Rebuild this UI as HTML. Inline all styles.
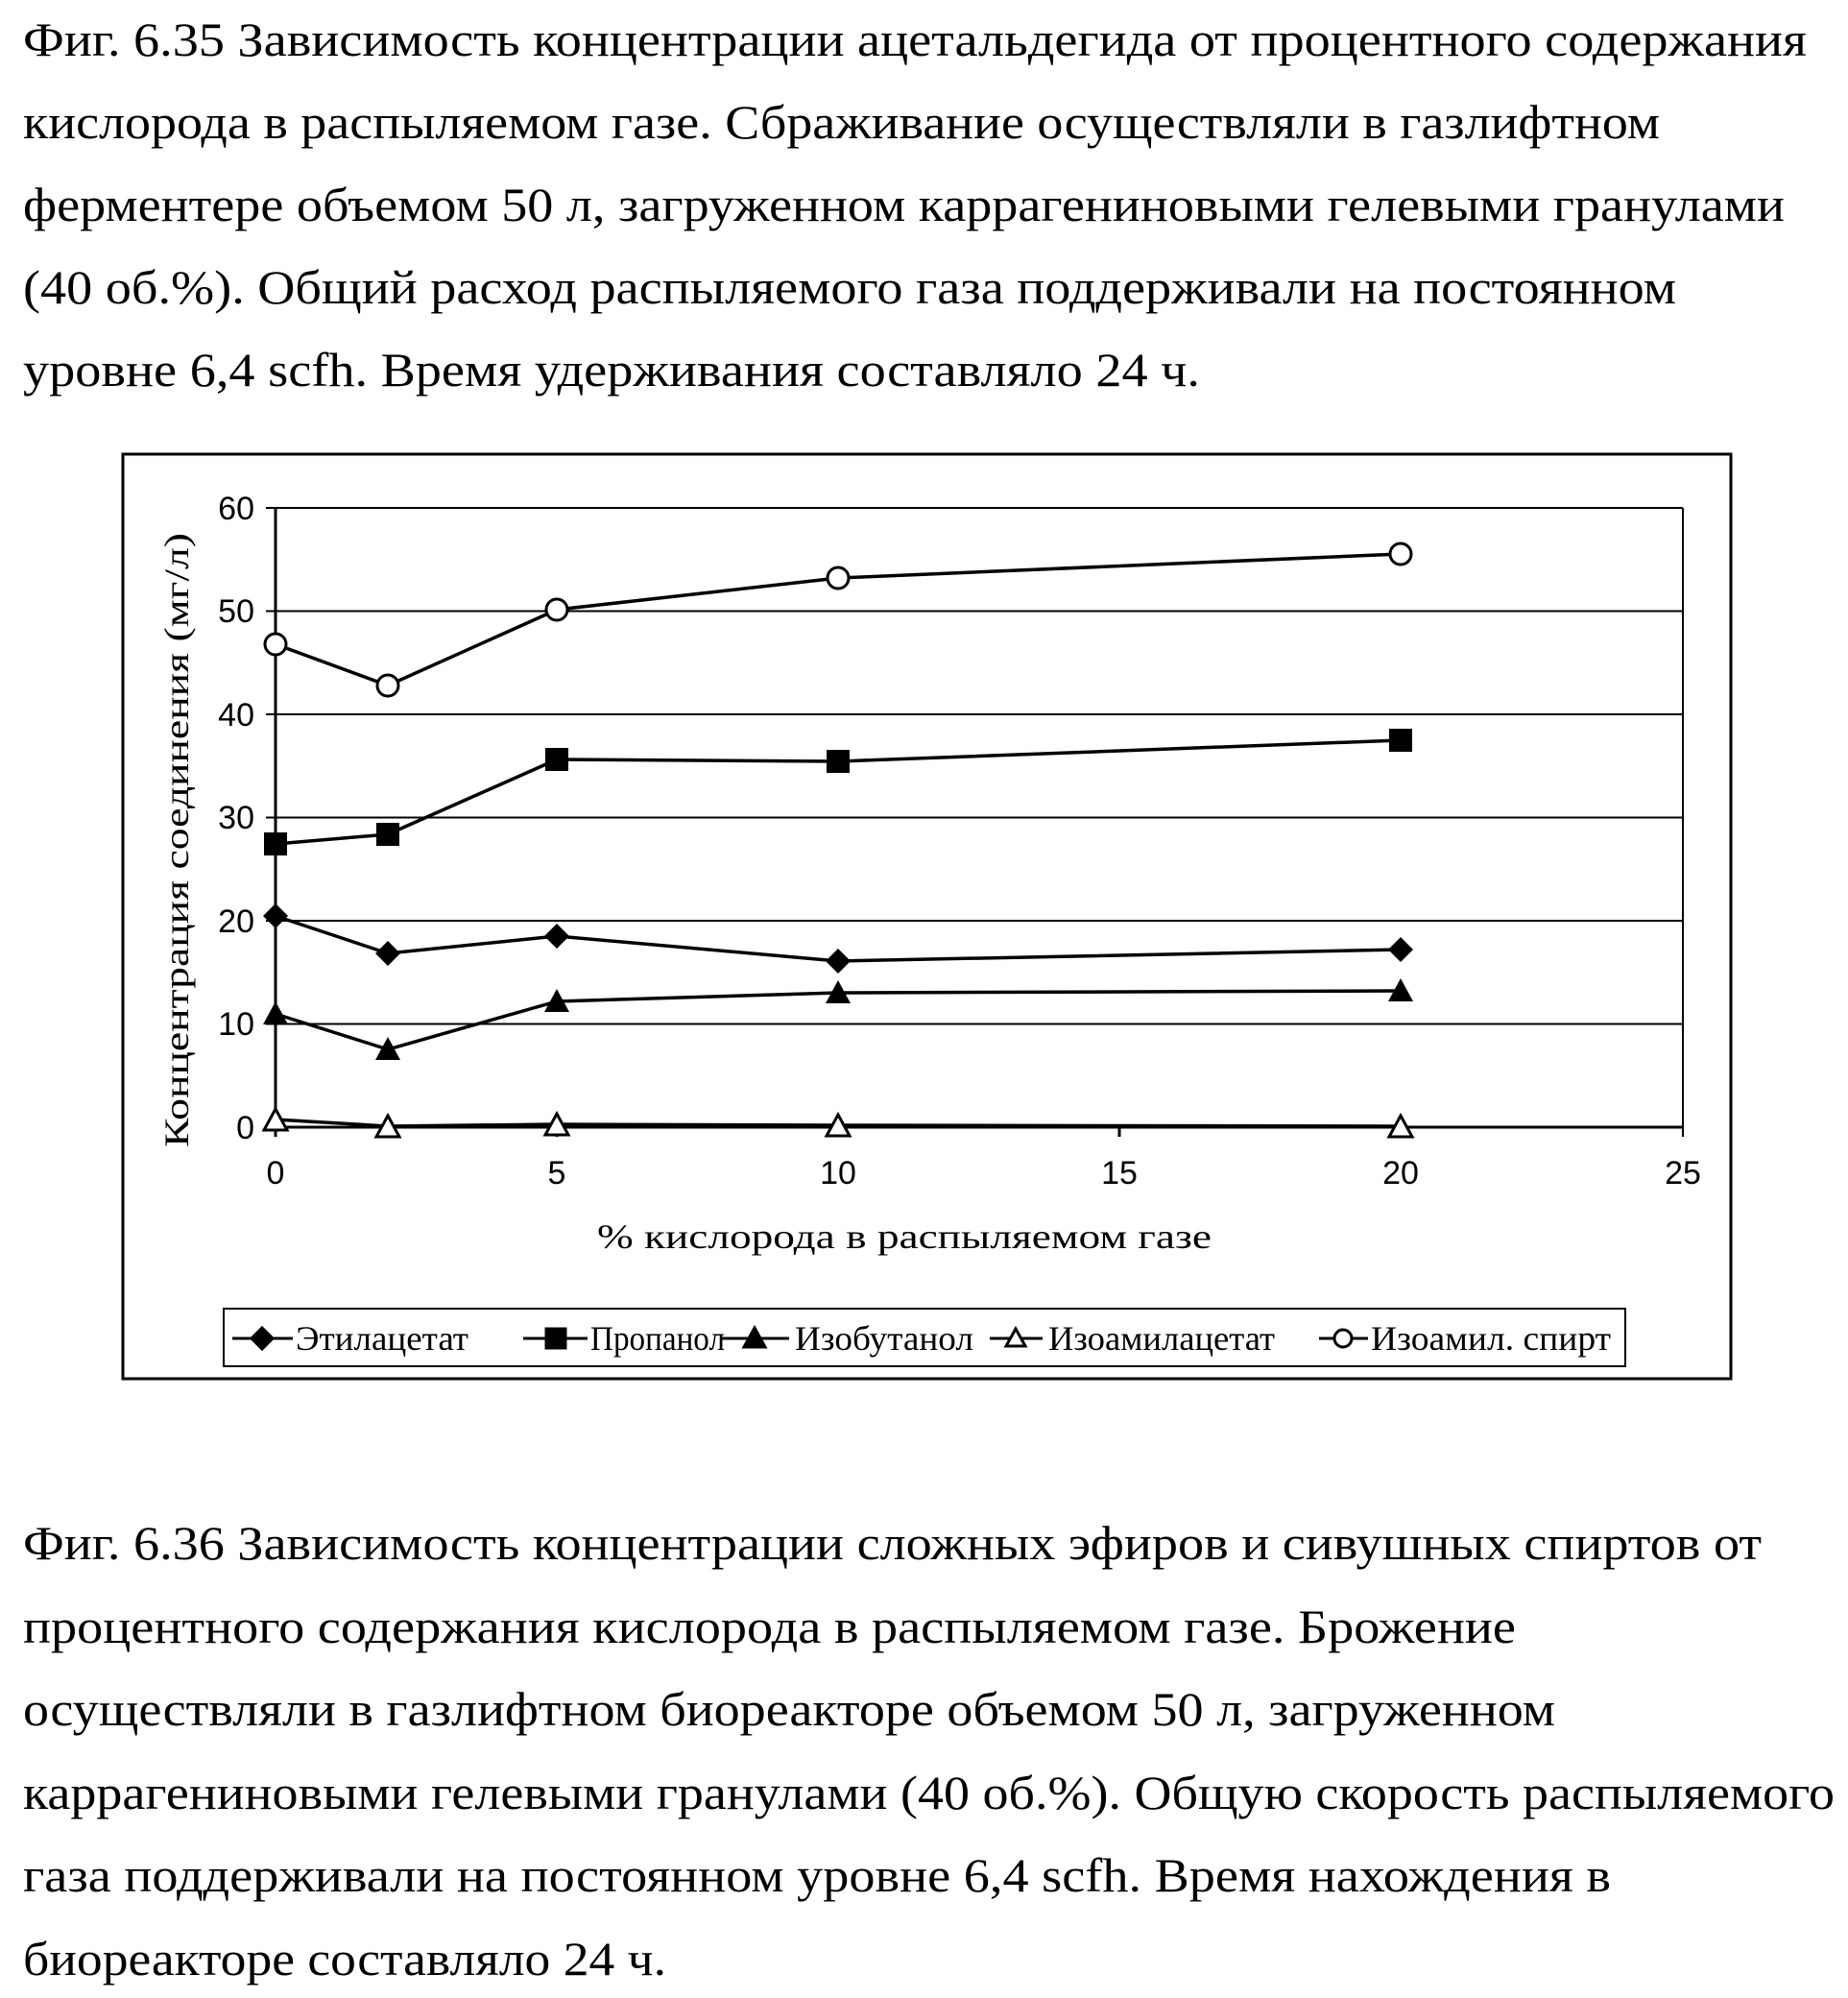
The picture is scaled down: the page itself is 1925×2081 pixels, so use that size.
<!DOCTYPE html>
<html><head><meta charset="utf-8"><style>
html,body{margin:0;padding:0;background:#fff;}
svg{display:block;}
.t{font-family:"Liberation Serif",serif;font-size:50px;fill:#000;}
.a{font-family:"Liberation Sans",sans-serif;font-size:34px;fill:#000;}
.l{font-family:"Liberation Serif",serif;font-size:36px;fill:#000;}
</style></head><body>
<svg width="1925" height="2081" viewBox="0 0 1925 2081" xmlns="http://www.w3.org/2000/svg">
<g class="t">
<text x="24" y="58" textLength="1858" lengthAdjust="spacingAndGlyphs">Фиг. 6.35 Зависимость концентрации ацетальдегида от процентного содержания</text>
<text x="24" y="144" textLength="1705" lengthAdjust="spacingAndGlyphs">кислорода в распыляемом газе. Сбраживание осуществляли в газлифтном</text>
<text x="24" y="230" textLength="1835" lengthAdjust="spacingAndGlyphs">ферментере объемом 50 л, загруженном каррагениновыми гелевыми гранулами</text>
<text x="24" y="316" textLength="1722" lengthAdjust="spacingAndGlyphs">(40 об.%). Общий расход распыляемого газа поддерживали на постоянном</text>
<text x="24" y="402" textLength="1226" lengthAdjust="spacingAndGlyphs">уровне 6,4 scfh. Время удерживания составляло 24 ч.</text>
<text x="24" y="1624" textLength="1811" lengthAdjust="spacingAndGlyphs">Фиг. 6.36 Зависимость концентрации сложных эфиров и сивушных спиртов от</text>
<text x="24" y="1711" textLength="1555" lengthAdjust="spacingAndGlyphs">процентного содержания кислорода в распыляемом газе. Брожение</text>
<text x="24" y="1797" textLength="1596" lengthAdjust="spacingAndGlyphs">осуществляли в газлифтном биореакторе объемом 50 л, загруженном</text>
<text x="24" y="1884" textLength="1887" lengthAdjust="spacingAndGlyphs">каррагениновыми гелевыми гранулами (40 об.%). Общую скорость распыляемого</text>
<text x="24" y="1970" textLength="1654" lengthAdjust="spacingAndGlyphs">газа поддерживали на постоянном уровне 6,4 scfh. Время нахождения в</text>
<text x="24" y="2057" textLength="670" lengthAdjust="spacingAndGlyphs">биореакторе составляло 24 ч.</text>
</g>
<rect x="128" y="473" width="1675" height="963" fill="none" stroke="#000" stroke-width="3"/>
<g stroke="#000" stroke-width="2">
<line x1="277" y1="529" x2="1753" y2="529"/>
<line x1="277" y1="636.5" x2="1753" y2="636.5"/>
<line x1="277" y1="744" x2="1753" y2="744"/>
<line x1="277" y1="851.5" x2="1753" y2="851.5"/>
<line x1="277" y1="959" x2="1753" y2="959"/>
<line x1="277" y1="1066.5" x2="1753" y2="1066.5"/>
<line x1="1753" y1="529" x2="1753" y2="1184"/>
</g>
<g stroke="#000" stroke-width="3">
<line x1="287" y1="529" x2="287" y2="1184"/>
<line x1="277" y1="1174" x2="1753" y2="1174"/>
<line x1="580" y1="1174" x2="580" y2="1184"/>
<line x1="873" y1="1174" x2="873" y2="1184"/>
<line x1="1166" y1="1174" x2="1166" y2="1184"/>
<line x1="1459" y1="1174" x2="1459" y2="1184"/>
</g>
<g class="a" text-anchor="end">
<text x="265" y="541">60</text><text x="265" y="648">50</text><text x="265" y="756">40</text>
<text x="265" y="863">30</text><text x="265" y="971">20</text><text x="265" y="1078">10</text><text x="265" y="1186">0</text>
</g>
<g class="a" text-anchor="middle">
<text x="287" y="1233">0</text><text x="580" y="1233">5</text><text x="873" y="1233">10</text>
<text x="1166" y="1233">15</text><text x="1459" y="1233">20</text><text x="1753" y="1233">25</text>
</g>
<text class="l" x="622" y="1300" font-size="40" textLength="640" lengthAdjust="spacingAndGlyphs">% кислорода в распыляемом газе</text>
<text class="l" transform="translate(196,1195) rotate(-90)" font-size="40" textLength="640" lengthAdjust="spacingAndGlyphs">Концентрация соединения (мг/л)</text>
<g fill="none" stroke="#000" stroke-width="3.5">
<polyline points="287,879 404,869 580,791 873,793 1459,771"/>
<polyline points="287,954 404,993 580,975 873,1001 1459,989"/>
<polyline points="287,1056 404,1093 580,1043 873,1034 1459,1032"/>
<polyline points="287,1166 404,1173 580,1171 873,1172 1459,1173"/>
<polyline points="287,671 404,714 580,635 873,602 1459,577"/>
</g>
<g fill="#000">
<rect x="275" y="867" width="24" height="24"/><rect x="392" y="857" width="24" height="24"/><rect x="568" y="779" width="24" height="24"/><rect x="861" y="781" width="24" height="24"/><rect x="1447" y="759" width="24" height="24"/>
</g>
<g fill="#000">
<polygon points="287,941 300,954 287,967 274,954"/><polygon points="404,980 417,993 404,1006 391,993"/><polygon points="580,962 593,975 580,988 567,975"/><polygon points="873,988 886,1001 873,1014 860,1001"/><polygon points="1459,976 1472,989 1459,1002 1446,989"/>
</g>
<g fill="#000">
<polygon points="287,1043 300,1067 274,1067"/><polygon points="404,1080 417,1104 391,1104"/><polygon points="580,1030 593,1054 567,1054"/><polygon points="873,1021 886,1045 860,1045"/><polygon points="1459,1019 1472,1043 1446,1043"/>
</g>
<g fill="#fff" stroke="#000" stroke-width="3">
<polygon points="287,1155 299,1177 275,1177"/><polygon points="404,1162 416,1184 392,1184"/><polygon points="580,1160 592,1182 568,1182"/><polygon points="873,1161 885,1183 861,1183"/><polygon points="1459,1162 1471,1184 1447,1184"/>
<circle cx="287" cy="671" r="11"/><circle cx="404" cy="714" r="11"/><circle cx="580" cy="635" r="11"/><circle cx="873" cy="602" r="11"/><circle cx="1459" cy="577" r="11"/>
</g>
<rect x="233" y="1363" width="1460" height="60" fill="none" stroke="#000" stroke-width="2"/>
<g stroke="#000" stroke-width="3" fill="#000">
<line x1="242" y1="1394" x2="305" y2="1394"/><polygon points="273,1383 284,1394 273,1405 262,1394"/>
<line x1="545" y1="1394" x2="612" y2="1394"/><rect x="569" y="1384" width="20" height="20"/>
<line x1="752" y1="1394" x2="822" y2="1394"/><polygon points="786,1383 797,1403 775,1403"/>
<line x1="1031" y1="1394" x2="1086" y2="1394"/><polygon points="1058,1384 1068,1402 1048,1402" fill="#fff"/>
<line x1="1374" y1="1394" x2="1425" y2="1394"/><circle cx="1399" cy="1394" r="9" fill="#fff"/>
</g>
<g class="l">
<text x="308" y="1406" textLength="180" lengthAdjust="spacingAndGlyphs">Этилацетат</text>
<text x="615" y="1406" textLength="140" lengthAdjust="spacingAndGlyphs">Пропанол</text>
<text x="828" y="1406" textLength="186" lengthAdjust="spacingAndGlyphs">Изобутанол</text>
<text x="1092" y="1406" textLength="236" lengthAdjust="spacingAndGlyphs">Изоамилацетат</text>
<text x="1428" y="1406" textLength="250" lengthAdjust="spacingAndGlyphs">Изоамил. спирт</text>
</g>
</svg>
</body></html>
